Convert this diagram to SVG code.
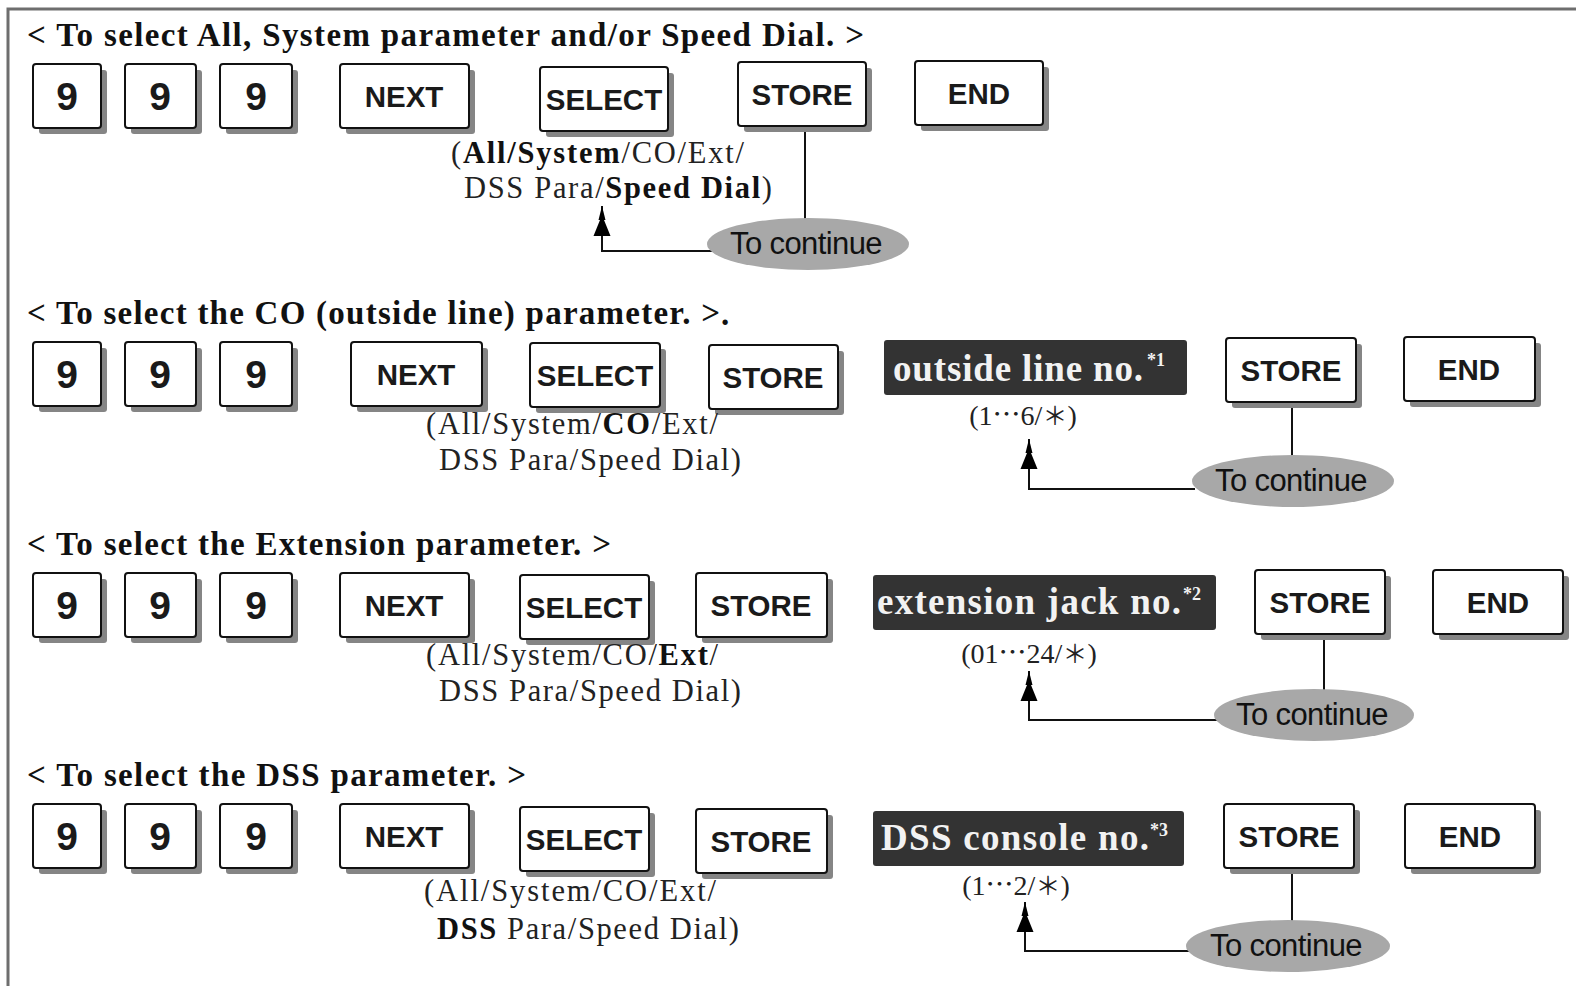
<svg xmlns="http://www.w3.org/2000/svg" width="1576" height="986" viewBox="0 0 1576 986">
  <defs>
    <style>
      .frame { fill: none; stroke: #6e6e6e; stroke-width: 3; }
      .shadow { fill: #858585; }
      .key { fill: #ffffff; stroke: #111; stroke-width: 2; }
      .klabel { font-family: "Liberation Sans", Arial, sans-serif; font-weight: bold; font-size: 29.5px; fill: #1a1a1a; text-anchor: middle; }
      .digit { font-size: 39px; }
      .title { font-family: "Liberation Serif", "Times New Roman", serif; font-weight: bold; font-size: 33px; fill: #111; }
      .sub { font-family: "Liberation Serif", "Times New Roman", serif; font-size: 30.5px; fill: #222; }
      .sub .b { font-weight: bold; fill: #111; }
      .range { font-family: "Liberation Serif", "Noto Sans CJK JP", serif; font-size: 28px; fill: #222; text-anchor: middle; }
      .dark { fill: #333333; }
      .dlabel { font-family: "Liberation Serif", "Times New Roman", serif; font-weight: bold; font-size: 37px; fill: #f2f2f2; }
      .sup { font-family: "Liberation Serif", "Times New Roman", serif; font-weight: bold; font-size: 18px; fill: #f2f2f2; }
      .oval { fill: #a8a8a8; }
      .olabel { font-family: "Liberation Sans", Arial, sans-serif; font-size: 31px; letter-spacing: -0.6px; fill: #111; text-anchor: middle; }
      .wire { fill: none; stroke: #111; stroke-width: 2; }
    </style>
    <marker id="tree" markerUnits="userSpaceOnUse" viewBox="0 0 30 20" refX="30" refY="10" markerWidth="30" markerHeight="20" orient="auto">
      <path d="M30,10 L16,6.5 L16,8 L0,1.5 L0,18.5 L16,12 L16,13.5 Z" fill="#000"/>
    </marker>
  </defs>

  <rect width="1576" height="986" fill="#ffffff"/>
  <path class="frame" d="M8,986 V9 H1576"/>

  <!-- section headings -->
  <text class="title" x="27" y="46" textLength="837" lengthAdjust="spacing">&lt; To select All, System parameter and/or Speed Dial. &gt;</text>
  <text class="title" x="27" y="324" textLength="693" lengthAdjust="spacing">&lt; To select the CO (outside line) parameter. &gt;</text>
  <text class="title" x="721" y="325" font-size="18">.</text>
  <text class="title" x="27" y="555" textLength="584" lengthAdjust="spacing">&lt; To select the Extension parameter. &gt;</text>
  <text class="title" x="27" y="786" textLength="499" lengthAdjust="spacing">&lt; To select the DSS parameter. &gt;</text>

  <!-- connectors -->
  <g id="connectors">
    <line class="wire" x1="805" y1="126" x2="805" y2="220"/>
    <path class="wire" d="M712,251 H602 V206" marker-end="url(#tree)"/>
    <line class="wire" x1="1292" y1="402" x2="1292" y2="456"/>
    <path class="wire" d="M1195,489 H1029 V439" marker-end="url(#tree)"/>
    <line class="wire" x1="1324" y1="634" x2="1324" y2="691"/>
    <path class="wire" d="M1217,720 H1029 V671" marker-end="url(#tree)"/>
    <line class="wire" x1="1292" y1="868" x2="1292" y2="922"/>
    <path class="wire" d="M1189,951 H1025 V902" marker-end="url(#tree)"/>
  </g>

  <!-- Row 1: All / System / Speed Dial -->
  <g id="r1-9a"><rect class="shadow" x="39" y="70" width="68" height="64" rx="3"/><rect class="key" x="33" y="64" width="68" height="64" rx="3"/><text class="klabel digit" x="67" y="110">9</text></g>
  <g id="r1-9b"><rect class="shadow" x="131" y="70" width="71" height="64" rx="3"/><rect class="key" x="125" y="64" width="71" height="64" rx="3"/><text class="klabel digit" x="160" y="110">9</text></g>
  <g id="r1-9c"><rect class="shadow" x="226" y="70" width="72" height="64" rx="3"/><rect class="key" x="220" y="64" width="72" height="64" rx="3"/><text class="klabel digit" x="256" y="110">9</text></g>
  <g id="r1-next"><rect class="shadow" x="346" y="70" width="129" height="64" rx="3"/><rect class="key" x="340" y="64" width="129" height="64" rx="3"/><text class="klabel" x="404" y="107">NEXT</text></g>
  <g id="r1-select"><rect class="shadow" x="546" y="73" width="128" height="64" rx="3"/><rect class="key" x="540" y="67" width="128" height="64" rx="3"/><text class="klabel" x="604" y="110" font-size="27.5">SELECT</text></g>
  <g id="r1-store"><rect class="shadow" x="744" y="68" width="128" height="64" rx="3"/><rect class="key" x="738" y="62" width="128" height="64" rx="3"/><text class="klabel" x="802" y="105">STORE</text></g>
  <g id="r1-end"><rect class="shadow" x="921" y="67" width="128" height="64" rx="3"/><rect class="key" x="915" y="61" width="128" height="64" rx="3"/><text class="klabel" x="979" y="104">END</text></g>
  <g id="r1-choices">
    <text class="sub" x="451" y="163" textLength="293" lengthAdjust="spacing">(<tspan class="b">All/System</tspan>/CO/Ext/</text>
    <text class="sub" x="464" y="198" textLength="308" lengthAdjust="spacing">DSS Para/<tspan class="b">Speed Dial</tspan>)</text>
  </g>
  <g id="r1-continue"><ellipse class="oval" cx="808" cy="244" rx="101" ry="26"/><text class="olabel" x="806" y="254">To continue</text></g>

  <!-- Row 2: CO (outside line) -->
  <g id="r2-9a"><rect class="shadow" x="39" y="348" width="68" height="64" rx="3"/><rect class="key" x="33" y="342" width="68" height="64" rx="3"/><text class="klabel digit" x="67" y="388">9</text></g>
  <g id="r2-9b"><rect class="shadow" x="131" y="348" width="71" height="64" rx="3"/><rect class="key" x="125" y="342" width="71" height="64" rx="3"/><text class="klabel digit" x="160" y="388">9</text></g>
  <g id="r2-9c"><rect class="shadow" x="226" y="348" width="72" height="64" rx="3"/><rect class="key" x="220" y="342" width="72" height="64" rx="3"/><text class="klabel digit" x="256" y="388">9</text></g>
  <g id="r2-next"><rect class="shadow" x="357" y="348" width="131" height="64" rx="3"/><rect class="key" x="351" y="342" width="131" height="64" rx="3"/><text class="klabel" x="416" y="385">NEXT</text></g>
  <g id="r2-select"><rect class="shadow" x="536" y="349" width="130" height="64" rx="3"/><rect class="key" x="530" y="343" width="130" height="64" rx="3"/><text class="klabel" x="595" y="386" font-size="27.5">SELECT</text></g>
  <g id="r2-store"><rect class="shadow" x="715" y="351" width="129" height="64" rx="3"/><rect class="key" x="709" y="345" width="129" height="64" rx="3"/><text class="klabel" x="773" y="388">STORE</text></g>
  <g id="r2-line">
    <rect class="dark" x="884" y="340" width="303" height="55" rx="3"/>
    <text class="dlabel" x="893" y="381" textLength="250" lengthAdjust="spacing">outside line no.</text>
    <text class="sup" x="1147" y="366">*1</text>
    <text class="range" x="1023" y="425">(1⋯6/<tspan font-family="'Noto Sans CJK JP', sans-serif" font-size="25">＊</tspan>)</text>
  </g>
  <g id="r2-store2"><rect class="shadow" x="1232" y="344" width="130" height="64" rx="3"/><rect class="key" x="1226" y="338" width="130" height="64" rx="3"/><text class="klabel" x="1291" y="381">STORE</text></g>
  <g id="r2-end"><rect class="shadow" x="1410" y="343" width="131" height="64" rx="3"/><rect class="key" x="1404" y="337" width="131" height="64" rx="3"/><text class="klabel" x="1469" y="380">END</text></g>
  <g id="r2-choices">
    <text class="sub" x="426" y="434" textLength="292" lengthAdjust="spacing">(All/System/<tspan class="b">CO</tspan>/Ext/</text>
    <text class="sub" x="439" y="470" textLength="302" lengthAdjust="spacing">DSS Para/Speed Dial)</text>
  </g>
  <g id="r2-continue"><ellipse class="oval" cx="1293" cy="481" rx="101" ry="26"/><text class="olabel" x="1291" y="491">To continue</text></g>

  <!-- Row 3: Extension -->
  <g id="r3-9a"><rect class="shadow" x="39" y="579" width="68" height="64" rx="3"/><rect class="key" x="33" y="573" width="68" height="64" rx="3"/><text class="klabel digit" x="67" y="619">9</text></g>
  <g id="r3-9b"><rect class="shadow" x="131" y="579" width="71" height="64" rx="3"/><rect class="key" x="125" y="573" width="71" height="64" rx="3"/><text class="klabel digit" x="160" y="619">9</text></g>
  <g id="r3-9c"><rect class="shadow" x="226" y="579" width="72" height="64" rx="3"/><rect class="key" x="220" y="573" width="72" height="64" rx="3"/><text class="klabel digit" x="256" y="619">9</text></g>
  <g id="r3-next"><rect class="shadow" x="346" y="579" width="129" height="64" rx="3"/><rect class="key" x="340" y="573" width="129" height="64" rx="3"/><text class="klabel" x="404" y="616">NEXT</text></g>
  <g id="r3-select"><rect class="shadow" x="526" y="581" width="129" height="64" rx="3"/><rect class="key" x="520" y="575" width="129" height="64" rx="3"/><text class="klabel" x="584" y="618" font-size="27.5">SELECT</text></g>
  <g id="r3-store"><rect class="shadow" x="702" y="579" width="131" height="64" rx="3"/><rect class="key" x="696" y="573" width="131" height="64" rx="3"/><text class="klabel" x="761" y="616">STORE</text></g>
  <g id="r3-jack">
    <rect class="dark" x="873" y="575" width="343" height="55" rx="3"/>
    <text class="dlabel" x="877" y="614" textLength="304" lengthAdjust="spacing">extension jack no.</text>
    <text class="sup" x="1183" y="600">*2</text>
    <text class="range" x="1029" y="663">(01⋯24/<tspan font-family="'Noto Sans CJK JP', sans-serif" font-size="25">＊</tspan>)</text>
  </g>
  <g id="r3-store2"><rect class="shadow" x="1261" y="576" width="130" height="64" rx="3"/><rect class="key" x="1255" y="570" width="130" height="64" rx="3"/><text class="klabel" x="1320" y="613">STORE</text></g>
  <g id="r3-end"><rect class="shadow" x="1439" y="576" width="130" height="64" rx="3"/><rect class="key" x="1433" y="570" width="130" height="64" rx="3"/><text class="klabel" x="1498" y="613">END</text></g>
  <g id="r3-choices">
    <text class="sub" x="426" y="665" textLength="292" lengthAdjust="spacing">(All/System/CO/<tspan class="b">Ext</tspan>/</text>
    <text class="sub" x="439" y="701" textLength="302" lengthAdjust="spacing">DSS Para/Speed Dial)</text>
  </g>
  <g id="r3-continue"><ellipse class="oval" cx="1314" cy="715" rx="100" ry="26"/><text class="olabel" x="1312" y="725">To continue</text></g>

  <!-- Row 4: DSS -->
  <g id="r4-9a"><rect class="shadow" x="39" y="810" width="68" height="64" rx="3"/><rect class="key" x="33" y="804" width="68" height="64" rx="3"/><text class="klabel digit" x="67" y="850">9</text></g>
  <g id="r4-9b"><rect class="shadow" x="131" y="810" width="71" height="64" rx="3"/><rect class="key" x="125" y="804" width="71" height="64" rx="3"/><text class="klabel digit" x="160" y="850">9</text></g>
  <g id="r4-9c"><rect class="shadow" x="226" y="810" width="72" height="64" rx="3"/><rect class="key" x="220" y="804" width="72" height="64" rx="3"/><text class="klabel digit" x="256" y="850">9</text></g>
  <g id="r4-next"><rect class="shadow" x="346" y="810" width="129" height="64" rx="3"/><rect class="key" x="340" y="804" width="129" height="64" rx="3"/><text class="klabel" x="404" y="847">NEXT</text></g>
  <g id="r4-select"><rect class="shadow" x="526" y="813" width="129" height="64" rx="3"/><rect class="key" x="520" y="807" width="129" height="64" rx="3"/><text class="klabel" x="584" y="850" font-size="27.5">SELECT</text></g>
  <g id="r4-store"><rect class="shadow" x="702" y="815" width="131" height="64" rx="3"/><rect class="key" x="696" y="809" width="131" height="64" rx="3"/><text class="klabel" x="761" y="852">STORE</text></g>
  <g id="r4-console">
    <rect class="dark" x="873" y="811" width="311" height="55" rx="3"/>
    <text class="dlabel" x="881" y="850" textLength="268" lengthAdjust="spacing">DSS console no.</text>
    <text class="sup" x="1150" y="836">*3</text>
    <text class="range" x="1016" y="895">(1⋯2/<tspan font-family="'Noto Sans CJK JP', sans-serif" font-size="25">＊</tspan>)</text>
  </g>
  <g id="r4-store2"><rect class="shadow" x="1230" y="810" width="130" height="64" rx="3"/><rect class="key" x="1224" y="804" width="130" height="64" rx="3"/><text class="klabel" x="1289" y="847">STORE</text></g>
  <g id="r4-end"><rect class="shadow" x="1411" y="810" width="130" height="64" rx="3"/><rect class="key" x="1405" y="804" width="130" height="64" rx="3"/><text class="klabel" x="1470" y="847">END</text></g>
  <g id="r4-choices">
    <text class="sub" x="424" y="901" textLength="292" lengthAdjust="spacing">(All/System/CO/Ext/</text>
    <text class="sub" x="437" y="939" textLength="302" lengthAdjust="spacing"><tspan class="b">DSS</tspan> Para/Speed Dial)</text>
  </g>
  <g id="r4-continue"><ellipse class="oval" cx="1288" cy="946" rx="102" ry="26"/><text class="olabel" x="1286" y="956">To continue</text></g>
</svg>
